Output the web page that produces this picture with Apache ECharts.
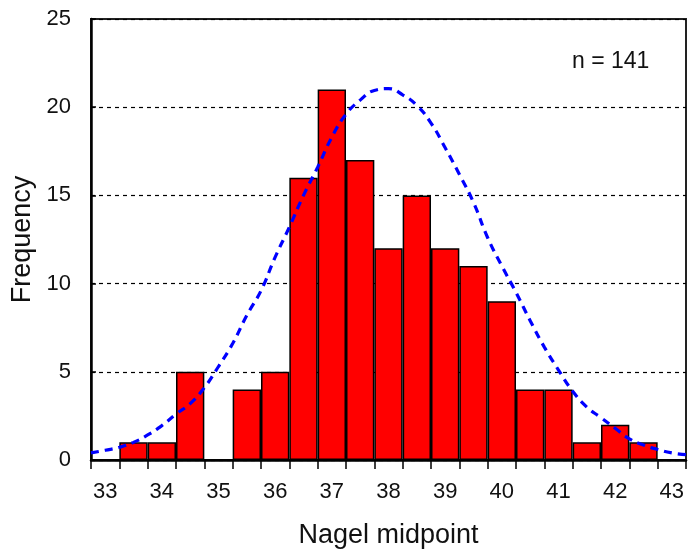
<!DOCTYPE html>
<html>
<head>
<meta charset="utf-8">
<script src="https://cdn.jsdelivr.net/npm/echarts@6/dist/echarts.min.js"></script>
<style>
html, body { margin: 0; padding: 0; background: #fff; }
#chart { width: 688px; height: 554px; }
</style>
</head>
<body>
<div id="chart"></div>
<script>
// bin centres (width 0.5) and counts
var binCentres = ['33', '33.5', '34', '34.5', '35', '35.5', '36', '36.5', '37', '37.5', '38',
                  '38.5', '39', '39.5', '40', '40.5', '41', '41.5', '42', '42.5', '43'];
var counts = [0, 1, 1, 5, 0, 4, 5, 16, 21, 17, 12, 15, 12, 11, 9, 4, 4, 1, 2, 1, 0];

// fitted curve
var curveX = [32.75, 33, 33.25, 33.5, 33.75, 34, 34.25, 34.5, 34.75, 35, 35.25, 35.5, 35.75, 36,
              36.25, 36.5, 36.75, 37, 37.25, 37.5, 37.75, 38, 38.25, 38.5, 38.75, 39, 39.25, 39.5,
              39.75, 40, 40.25, 40.5, 40.75, 41, 41.25, 41.5, 41.75, 42, 42.25, 42.5, 42.75, 43, 43.25];
var curveY = [0.4, 0.55, 0.72, 1.0, 1.42, 1.95, 2.6, 3.2, 4.1, 5.3, 6.6, 8.2, 9.6, 11.5,
              13.2, 15.0, 16.6, 18.3, 19.6, 20.4, 20.95, 21.05, 20.7, 20.1, 19.1, 17.7, 16.2, 14.6,
              12.6, 11.0, 9.5, 7.9, 6.4, 5.1, 3.9, 3.0, 2.4, 1.8, 1.2, 0.85, 0.6, 0.4, 0.3];

var yTicks = [0, 5, 10, 15, 20, 25];

var font = '"Liberation Sans", Arial, sans-serif';

var myChart = echarts.init(document.getElementById('chart'));

var curveData = [];
for (var i = 0; i < curveX.length; i++) {
    curveData.push([curveX[i], curveY[i]]);
}

option = {
    animation: false,
    textStyle: { fontFamily: font },
    grid: {
        left: 91, top: 19, right: 2, bottom: 91,
        show: true,
        borderColor: '#222',
        borderWidth: 2,
        containLabel: false
    },
    graphic: [{
        type: 'text',
        left: 572,
        top: 50,
        style: { text: 'n = 141', font: '23px ' + font, fill: '#111' }
    }],
    xAxis: [{
        type: 'category',
        data: binCentres,
        boundaryGap: true,
        name: 'Nagel midpoint',
        nameLocation: 'middle',
        nameGap: 62,
        nameTextStyle: { fontSize: 27, color: '#111', fontFamily: font },
        axisLine: { lineStyle: { color: '#000', width: 2.5 } },
        axisTick: { show: true, interval: 0, length: 9, lineStyle: { color: '#000', width: 1.5 } },
        axisLabel: { interval: 1, fontSize: 22, color: '#111', margin: 21, fontFamily: font },
        splitLine: { show: false }
    }, {
        type: 'value',
        min: 32.75,
        max: 43.25,
        show: false
    }],
    yAxis: {
        type: 'value',
        min: yTicks[0],
        max: yTicks[yTicks.length - 1],
        interval: 5,
        name: 'Frequency',
        nameLocation: 'middle',
        nameGap: 52,
        nameTextStyle: { fontSize: 27, color: '#111', fontFamily: font },
        axisLine: { show: true, lineStyle: { color: '#000', width: 2.5 } },
        axisTick: { show: true, inside: true, length: 5, lineStyle: { color: '#000', width: 1.5 } },
        axisLabel: { fontSize: 22, color: '#111', margin: 20, fontFamily: font },
        splitLine: { show: true, lineStyle: { color: '#000', type: [4, 4], width: 1.2 } }
    },
    series: [{
        name: 'Frequency',
        type: 'bar',
        data: counts,
        barCategoryGap: 0,
        barGap: 0,
        itemStyle: { color: '#ff0000', borderColor: '#000', borderWidth: 1.5 }
    }, {
        name: 'Normal',
        type: 'line',
        xAxisIndex: 1,
        data: curveData,
        smooth: true,
        symbol: 'none',
        z: 5,
        lineStyle: { color: '#0000ff', width: 3.2, type: [8, 6] }
    }]
};

myChart.setOption(option);
</script>
</body>
</html>
